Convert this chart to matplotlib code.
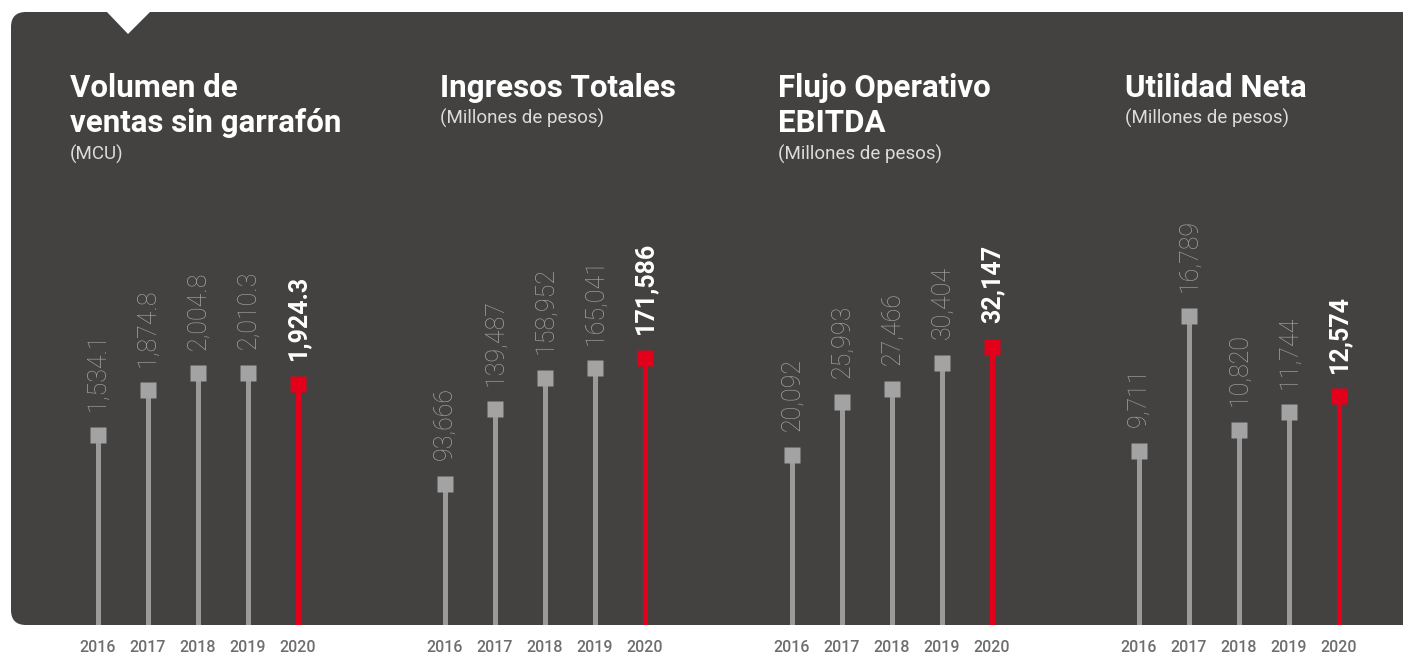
import matplotlib
matplotlib.use("Agg")
import matplotlib.pyplot as plt
from matplotlib.patches import FancyBboxPatch, Polygon

plt.rcParams['font.family'] = ['Roboto', 'DejaVu Sans']

years = [2016, 2017, 2018, 2019, 2020]

titles = ["Volumen de\nventas sin garrafón", "Ingresos Totales",
          "Flujo Operativo\nEBITDA", "Utilidad Neta"]
subtitles = ["(MCU)", "(Millones de pesos)", "(Millones de pesos)", "(Millones de pesos)"]

volumen = [1534.1, 1874.8, 2004.8, 2010.3, 1924.3]
ingresos = [93666, 139487, 158952, 165041, 171586]
ebitda = [20092, 25993, 27466, 30404, 32147]
utilidad = [9711, 16789, 10820, 11744, 12574]

labels_volumen = ["1,534.1", "1,874.8", "2,004.8", "2,010.3", "1,924.3"]
labels_ingresos = ["93,666", "139,487", "158,952", "165,041", "171,586"]
labels_ebitda = ["20,092", "25,993", "27,466", "30,404", "32,147"]
labels_utilidad = ["9,711", "16,789", "10,820", "11,744", "12,574"]

series = [volumen, ingresos, ebitda, utilidad]
series_labels = [labels_volumen, labels_ingresos, labels_ebitda, labels_utilidad]

# each panel has its own scale; zero sits just below the panel edge
ylims = [(77, 4774), (6184, 385300), (1116, 69530), (627, 32650)]

BG = "#434241"
GRAY = "#a3a3a3"
STEM = "#9a9a9a"
RED = "#e2001a"

W, H = 1403, 654
fig = plt.figure(figsize=(W / 100, H / 100), dpi=100)
fig.patch.set_facecolor("white")

# background layer in pixel coords
bg = fig.add_axes([0, 0, 1, 1])
bg.set_xlim(0, W)
bg.set_ylim(H, 0)
bg.axis("off")
bg.add_patch(FancyBboxPatch((11, 12), 1600, 613,
                            boxstyle="round,pad=0,rounding_size=15",
                            fc=BG, ec="none"))
bg.add_patch(Polygon([(106, 11), (151, 11), (128, 34)], closed=True,
                     fc="white", ec="none"))

title_x = [70, 440, 778, 1125]
for k in range(4):
    x0 = title_x[k]
    lines = titles[k].split("\n")
    for j, line in enumerate(lines):
        bg.text(x0, 97 + 35 * j, line, color="white", fontsize=22.5,
                fontweight="bold", va="baseline", ha="left")
    sub_y = 124 if len(lines) == 1 else 160
    bg.text(x0, sub_y, subtitles[k], color="#dcdcdc", fontsize=13.5,
            va="baseline", ha="left")

# lollipop panels
for k in range(4):
    left = (48 + 347 * k) / W
    ax = fig.add_axes([left, (H - 625) / H, 300 / W, 613 / H])
    ax.set_facecolor("none")
    ax.set_xlim(2015, 2021)
    ax.set_ylim(*ylims[k])
    for s in ax.spines.values():
        s.set_visible(False)
    ax.set_yticks([])
    ax.set_xticks(years)
    ax.set_xticklabels([str(y) for y in years])
    ax.tick_params(axis="x", length=0, pad=10.5, labelsize=11.5,
                   labelcolor="#6e6e6e")
    for lab in ax.get_xticklabels():
        lab.set_fontweight("medium")

    vals = series[k]
    base = ylims[k][0]
    for i, (yr, v) in enumerate(zip(years, vals)):
        last = i == len(years) - 1
        c = RED if last else STEM
        ax.vlines(yr, base, v, color=c, lw=3.6, zorder=2)
        ax.plot(yr, v, marker="s", ms=11.5, color=RED if last else GRAY,
                mec="none", zorder=3)
        ax.annotate(series_labels[k][i], (yr, v), xytext=(0, 17),
                    textcoords="offset points", rotation=90,
                    ha="center", va="bottom", fontsize=18,
                    color="white" if last else GRAY,
                    fontweight="bold" if last else "light")

fig.savefig("out.png", dpi=100, facecolor="white")
